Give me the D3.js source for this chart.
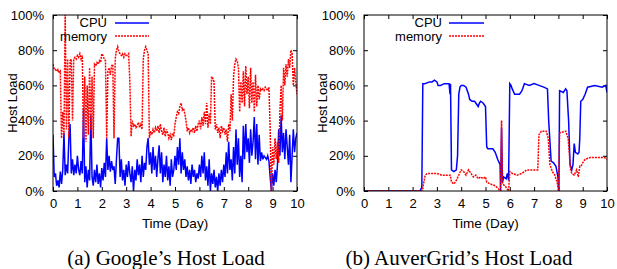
<!DOCTYPE html>
<html>
<head>
<meta charset="utf-8">
<script src="https://cdn.jsdelivr.net/npm/d3@7"></script>
<style>
  body { margin: 0; background: #fff; }
  svg text { font-family: "Liberation Sans", Arial, sans-serif; fill: #000; }
  .caption { font-family: "Liberation Serif", "Times New Roman", serif; }
</style>
</head>
<body>
<svg id="chart" width="617" height="269"></svg>
<script>
// ---- data (percent), Google sampled every 0.05 day ----
var googleStep = 0.05;

var googleMem = [
  72,69,69,68,69,67,68,30,45,32,100,35,75,30,74,75,40,75,76,75,
  77,76,78,75,77,30,65,28,60,32,70,35,65,30,72,71,73,72,74,73,
  78,77,75,74,30,68,70,66,71,72,30,75,80,82,79,78,77,78,76,78,
  77,77,78,62,31,40,37,38,36,37,39,36,38,35,75,80,82,80,78,30,
  34,32,35,33,36,34,37,33,38,34,32,36,31,35,33,30,32,29,33,31,
  38,42,45,44,48,50,46,47,44,40,34,36,33,35,34,36,33,37,34,38,
  40,35,42,37,45,38,50,36,44,38,65,64,62,35,38,33,36,30,37,34,
  36,32,35,28,38,34,55,40,65,72,75,74,70,45,62,50,68,48,71,55,
  65,47,70,50,62,45,66,48,60,52,58,57,58,57,59,58,57,59,35,0,
  25,15,30,18,28,16,45,60,40,70,60,72,65,75,70,80,78,60,70,62,
  55
];

var googleCpu = [
  32,8,10,3,6,2,11,4,12,33,9,15,10,30,38,10,18,9,15,10,
  20,12,9,17,10,47,5,14,2,12,6,43,8,3,12,5,15,4,10,2,
  13,6,16,8,30,12,20,11,17,12,14,4,18,30,30,8,18,6,12,3,
  15,8,17,10,5,14,0,12,6,18,9,15,5,20,8,16,12,25,30,15,
  22,10,25,12,20,8,18,26,10,22,5,15,8,20,6,14,3,18,8,12,
  20,12,25,15,30,10,22,12,18,8,14,6,12,4,15,8,12,5,10,7,
  15,8,20,10,22,6,14,3,18,0,10,4,12,2,8,0,10,3,12,5,
  15,8,22,10,28,12,18,6,25,10,35,15,30,8,20,5,37,18,38,22,
  30,16,35,20,28,42,18,38,15,32,17,22,18,20,19,18,20,17,8,0,
  10,3,12,5,15,35,20,43,22,33,18,35,25,15,32,5,20,35,22,30,
  33
];

var auverCpuDays = [0,2.3,2.38,2.42,2.5,2.7,2.8,2.9,3.0,3.05,3.15,3.3,3.5,3.54,3.56,3.6,3.7,3.8,3.85,3.9,
  3.95,4.0,4.1,4.2,4.3,4.35,4.45,4.55,4.6,4.7,4.75,4.8,4.9,5.0,5.05,5.1,5.3,5.4,5.5,5.6,
  5.62,5.66,5.7,5.75,5.85,5.9,5.95,6.0,6.05,6.1,6.2,6.4,6.5,6.6,6.8,7.0,7.2,7.4,7.55,7.6,
  7.7,7.8,7.9,7.98,8.02,8.05,8.2,8.3,8.35,8.42,8.48,8.55,8.6,8.65,8.7,8.8,8.85,8.88,8.92,9.0,
  9.1,9.2,9.5,9.8,9.95,10];
var auverCpu = [0,0,2,61,61,62,62,63,62,60,60,61,61,55,61,12,11,12,20,55,
  59,60,60,59,55,52,51,51,50,48,50,51,50,48,25,24,24,22,18,15,
  0,36,5,8,7,10,6,61,60,58,55,55,57,61,60,61,60,59,58,40,
  17,16,14,8,0,57,56,58,57,40,15,12,15,27,22,21,22,30,51,52,
  55,59,60,59,60,56];

var auverMemDays = [0,2.4,2.45,2.52,2.6,3.0,3.2,3.55,3.6,3.7,3.8,3.9,4.0,4.1,4.2,4.3,4.4,4.5,4.6,4.7,
  4.8,4.9,5.0,5.05,5.2,5.4,5.55,5.62,5.66,5.7,5.8,5.95,6.0,6.1,6.3,6.5,6.7,6.9,7.15,7.2,
  7.3,7.5,7.58,7.65,7.75,7.85,7.95,8.0,8.05,8.3,8.4,8.5,8.55,8.65,8.75,8.82,8.88,8.92,9.0,9.1,
  9.3,9.6,9.9,10];
var auverMem = [0,0,4,9,10,10,9,9,5,4,6,9,12,11,9,12,10,8,9,7,
  8,7,8,5,4,3,1,0,40,4,3,0,11,10,9,10,12,12,12,32,
  34,34,30,15,11,9,5,0,33,34,30,12,10,9,12,8,14,14,16,18,
  19,19,19,18];

var xTicks = [0,1,2,3,4,5,6,7,8,9,10];
var yTicks = [0,20,40,60,80,100];
var seriesNames = ['CPU', 'memory'];
var captions = ["(a) Google\u2019s Host Load", "(b) AuverGrid\u2019s Host Load"];

var svg = d3.select('#chart');

function toPoints(days, vals) {
  return vals.map(function(v, i) { return [days[i], v]; });
}
var googleDays = googleCpu.map(function(d, i) { return i * googleStep; });

var panels = [
  { left: 53, right: 297, cpu: toPoints(googleDays, googleCpu), mem: toPoints(googleDays, googleMem),
    legText: 107, legLine: [115, 149], ylab: 12, cap: captions[0], capX: 166 },
  { left: 364, right: 607, cpu: toPoints(auverCpuDays, auverCpu), mem: toPoints(auverMemDays, auverMem),
    legText: 442, legLine: [449, 484], ylab: 322, cap: captions[1], capX: 459 }
];

var plotTop = 15, plotBottom = 191;

panels.forEach(function(p, k) {
  var x = d3.scaleLinear().domain([0, 10]).range([p.left, p.right]);
  var y = d3.scaleLinear().domain([0, 100]).range([plotBottom, plotTop]);
  var g = svg.append('g');

  // clip so lines stay in the frame
  var clipId = 'clip' + k;
  g.append('clipPath').attr('id', clipId).append('rect')
    .attr('x', p.left).attr('y', plotTop).attr('width', p.right - p.left).attr('height', plotBottom - plotTop);

  // axes with inward ticks, mirrored on top/right
  g.append('g').attr('transform', 'translate(0,' + plotBottom + ')')
    .call(d3.axisBottom(x).tickValues(xTicks).tickSize(-4).tickPadding(8).tickFormat(d3.format('d')))
    .call(function(a) { a.select('.domain').remove(); a.selectAll('text').style('font-size', '13px'); });
  g.append('g').attr('transform', 'translate(0,' + plotTop + ')')
    .call(d3.axisTop(x).tickValues(xTicks).tickSize(-4).tickFormat(''))
    .call(function(a) { a.select('.domain').remove(); });
  g.append('g').attr('transform', 'translate(' + p.left + ',0)')
    .call(d3.axisLeft(y).tickValues(yTicks).tickSize(-4).tickPadding(9).tickFormat(function(d) { return d + '%'; }))
    .call(function(a) { a.select('.domain').remove(); a.selectAll('text').style('font-size', '13px'); });
  g.append('g').attr('transform', 'translate(' + p.right + ',0)')
    .call(d3.axisRight(y).tickValues(yTicks).tickSize(-4).tickFormat(''))
    .call(function(a) { a.select('.domain').remove(); });

  var line = d3.line().x(function(d) { return x(d[0]); }).y(function(d) { return y(d[1]); });

  g.append('path').datum(p.cpu)
    .attr('clip-path', 'url(#' + clipId + ')')
    .attr('d', line).attr('fill', 'none').attr('stroke', '#0000ff').attr('stroke-width', 1.5);
  g.append('path').datum(p.mem)
    .attr('clip-path', 'url(#' + clipId + ')')
    .attr('d', line).attr('fill', 'none').attr('stroke', '#ff0000').attr('stroke-width', 1.5)
    .attr('stroke-dasharray', '2,1');

  // frame
  g.append('rect').attr('x', p.left).attr('y', plotTop)
    .attr('width', p.right - p.left).attr('height', plotBottom - plotTop)
    .attr('fill', 'none').attr('stroke', '#000').attr('stroke-width', 1);

  // legend
  var legLineY = [23, 36], legTextY = [27, 41];
  seriesNames.forEach(function(name, i) {
    g.append('text').attr('x', p.legText).attr('y', legTextY[i])
      .attr('text-anchor', 'end').style('font-size', '13px').text(name);
    g.append('line').attr('x1', p.legLine[0]).attr('x2', p.legLine[1])
      .attr('y1', legLineY[i]).attr('y2', legLineY[i])
      .attr('stroke', i === 0 ? '#0000ff' : '#ff0000').attr('stroke-width', 1.5)
      .attr('stroke-dasharray', i === 0 ? null : '2,1');
  });

  // axis labels
  g.append('text').attr('transform', 'translate(' + p.ylab + ',' + ((plotTop + plotBottom) / 2) + ') rotate(-90)')
    .attr('text-anchor', 'middle').attr('dy', '0.35em').style('font-size', '13px').text('Host Load');
  g.append('text').attr('x', (p.left + p.right) / 2).attr('y', 228)
    .attr('text-anchor', 'middle').style('font-size', '13.5px').text('Time (Day)');

  g.append('text').attr('class', 'caption').attr('x', p.capX).attr('y', 265)
    .attr('text-anchor', 'middle').style('font-size', '21px').text(p.cap);
});
</script>
</body>
</html>
